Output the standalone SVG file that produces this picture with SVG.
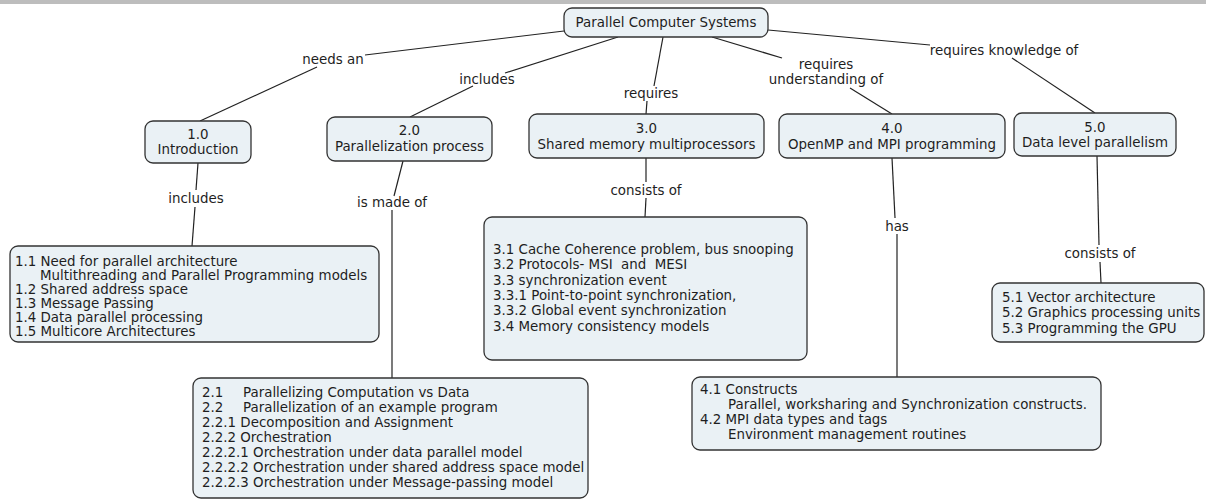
<svg xmlns="http://www.w3.org/2000/svg" width="1206" height="500" viewBox="0 0 1206 500">
<style>
  .node rect { fill: #eaf1f5; stroke: #333; stroke-width: 1.3; }
  text { font-family: "DejaVu Sans", Verdana, sans-serif; font-size: 13.4px; fill: #1e1e1e; white-space: pre; }
  .c { text-anchor: middle; }
  #connectors line { stroke: #222; stroke-width: 1.2; fill: none; }
</style>
<rect x="0" y="0" width="1206" height="4" fill="#bdbdbd"/>
<g id="connectors">
  <line x1="564" y1="31" x2="365" y2="55"/>
  <line x1="317" y1="67" x2="200" y2="121"/>
  <line x1="618" y1="37" x2="505" y2="73"/>
  <line x1="473" y1="86" x2="410" y2="117"/>
  <line x1="663" y1="37" x2="654" y2="86"/>
  <line x1="647" y1="101" x2="646" y2="114"/>
  <line x1="712" y1="37" x2="782" y2="58"/>
  <line x1="850" y1="88" x2="892" y2="114"/>
  <line x1="768" y1="30" x2="930" y2="45"/>
  <line x1="1012" y1="58" x2="1095" y2="113"/>
  <line x1="198" y1="163" x2="196" y2="190"/>
  <line x1="195" y1="207" x2="192" y2="246"/>
  <line x1="403" y1="161" x2="394" y2="196"/>
  <line x1="392" y1="210" x2="392" y2="378"/>
  <line x1="646" y1="158" x2="646" y2="182"/>
  <line x1="646" y1="198" x2="645" y2="217"/>
  <line x1="892" y1="158" x2="895" y2="218"/>
  <line x1="897" y1="234" x2="897" y2="377"/>
  <line x1="1097" y1="156" x2="1099" y2="245"/>
  <line x1="1100" y1="262" x2="1101" y2="283"/>
</g>
<g id="labels">
  <text class="c" x="333" y="63.5">needs an</text>
  <text class="c" x="487" y="83.5">includes</text>
  <text class="c" x="651" y="97.5">requires</text>
  <text class="c" x="826" y="68.5">requires</text>
  <text class="c" x="826" y="83.5">understanding of</text>
  <text class="c" x="1004" y="54.5">requires knowledge of</text>
  <text class="c" x="196" y="202.5">includes</text>
  <text class="c" x="392" y="206.5">is made of</text>
  <text class="c" x="646" y="194.5">consists of</text>
  <text class="c" x="897" y="230.5">has</text>
  <text class="c" x="1100" y="257.5">consists of</text>
</g>
<g id="root" class="node">
  <rect x="564" y="8" width="204" height="29" rx="8"/>
  <text class="c" x="666" y="27">Parallel Computer Systems</text>
</g>
<g id="n1" class="node">
  <rect x="145" y="121" width="106" height="42" rx="8"/>
  <text class="c" x="198" y="139">1.0</text>
  <text class="c" x="198" y="154">Introduction</text>
</g>
<g id="n2" class="node">
  <rect x="327" y="117" width="165" height="44" rx="8"/>
  <text class="c" x="409.5" y="135">2.0</text>
  <text class="c" x="409.5" y="151">Parallelization process</text>
</g>
<g id="n3" class="node">
  <rect x="529" y="114" width="235" height="44" rx="8"/>
  <text class="c" x="646.5" y="133">3.0</text>
  <text class="c" x="646.5" y="149">Shared memory multiprocessors</text>
</g>
<g id="n4" class="node">
  <rect x="779" y="114" width="226" height="44" rx="8"/>
  <text class="c" x="892" y="133">4.0</text>
  <text class="c" x="892" y="149">OpenMP and MPI programming</text>
</g>
<g id="n5" class="node">
  <rect x="1014" y="113" width="162" height="43" rx="8"/>
  <text class="c" x="1095" y="131.5">5.0</text>
  <text class="c" x="1095" y="147">Data level parallelism</text>
</g>
<g id="n1x" class="node">
  <rect x="10" y="246" width="369" height="96" rx="8"/>
  <text x="15" y="266">1.1 Need for parallel architecture</text>
  <text x="40" y="280">Multithreading and Parallel Programming models</text>
  <text x="15" y="294">1.2 Shared address space</text>
  <text x="15" y="308">1.3 Message Passing</text>
  <text x="15" y="322">1.4 Data parallel processing</text>
  <text x="15" y="336">1.5 Multicore Architectures</text>
</g>
<g id="n2x" class="node">
  <rect x="193" y="378" width="395" height="120" rx="8"/>
  <text x="202" y="396.5">2.1</text>
  <text x="243" y="396.5">Parallelizing Computation vs Data</text>
  <text x="202" y="411.5">2.2</text>
  <text x="243" y="411.5">Parallelization of an example program</text>
  <text x="202" y="426.5">2.2.1 Decomposition and Assignment</text>
  <text x="202" y="441.5">2.2.2 Orchestration</text>
  <text x="202" y="456.5">2.2.2.1 Orchestration under data parallel model</text>
  <text x="202" y="471.5">2.2.2.2 Orchestration under shared address space model</text>
  <text x="202" y="486.5">2.2.2.3 Orchestration under Message-passing model</text>
</g>
<g id="n3x" class="node">
  <rect x="484" y="217" width="323" height="143" rx="8"/>
  <text x="493" y="254">3.1 Cache Coherence problem, bus snooping</text>
  <text x="493" y="269.3">3.2 Protocols- MSI  and  MESI</text>
  <text x="493" y="284.6">3.3 synchronization event</text>
  <text x="493" y="300">3.3.1 Point-to-point synchronization,</text>
  <text x="493" y="315.2">3.3.2 Global event synchronization</text>
  <text x="493" y="330.5">3.4 Memory consistency models</text>
</g>
<g id="n4x" class="node">
  <rect x="692" y="377" width="409" height="73" rx="8"/>
  <text x="700" y="393.5">4.1 Constructs</text>
  <text x="728" y="408.8">Parallel, worksharing and Synchronization constructs.</text>
  <text x="700" y="424">4.2 MPI data types and tags</text>
  <text x="728" y="439.3">Environment management routines</text>
</g>
<g id="n5x" class="node">
  <rect x="992" y="283" width="212" height="59" rx="8"/>
  <text x="1002" y="301.5">5.1 Vector architecture</text>
  <text x="1002" y="317">5.2 Graphics processing units</text>
  <text x="1002" y="332.5">5.3 Programming the GPU</text>
</g>
</svg>
